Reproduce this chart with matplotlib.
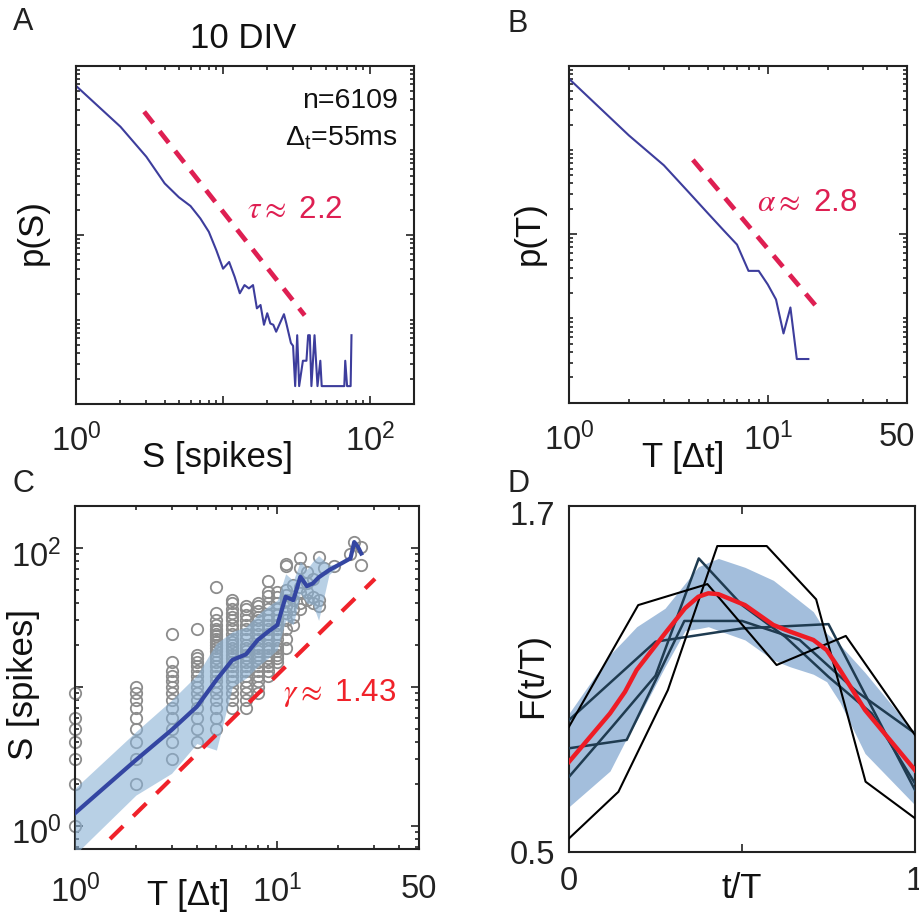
import numpy as np
import matplotlib
matplotlib.use('Agg')
import matplotlib.pyplot as plt
from matplotlib.ticker import LogLocator, FixedLocator, NullFormatter, FixedFormatter
import matplotlib.transforms as mtrans

plt.rcParams['font.family'] = ['Liberation Sans', 'DejaVu Sans']
plt.rcParams['mathtext.fontset'] = 'custom'
plt.rcParams['mathtext.rm'] = 'Liberation Sans'
plt.rcParams['mathtext.it'] = 'Liberation Sans:italic'
plt.rcParams['mathtext.bf'] = 'Liberation Sans:bold'

# ---------------- data ----------------
# Panel A: avalanche size distribution
A_S = [1, 2, 3, 4, 5, 6, 7, 8, 9, 10, 11, 12, 13, 14, 15, 16, 17, 18, 19, 20,
       21, 22, 23, 26, 27, 29, 30, 31, 32, 33, 35, 37, 38, 39, 40, 42, 44, 46,
       47, 50, 67, 68, 70, 74, 75]
A_p = [0.574, 0.190, 0.0841, 0.0407, 0.0279, 0.0220, 0.0157, 0.0109, 0.0066,
       0.0040, 0.0048, 0.0032, 0.00205, 0.00256, 0.00234, 0.00256, 0.00136,
       0.00149, 0.00087, 0.00119, 0.00090, 0.00087, 0.00072, 0.00116, 0.00090,
       0.00053, 0.00049, 0.000164, 0.000655, 0.000164, 0.000327, 0.000327,
       0.000655, 0.000655, 0.000164, 0.000655, 0.000164, 0.000327, 0.000164,
       0.000164, 0.000164, 0.000327, 0.000164, 0.000164, 0.000655]
A_fit_range = [2.9, 36.0]
A_tau = 2.2
A_fit_amp = 2.98

# Panel B: avalanche duration distribution
B_T = [1, 2, 3, 4, 5, 6, 7, 8, 9, 10, 11, 12, 13, 14, 15, 16]
B_p = [0.70, 0.149, 0.0658, 0.0315, 0.0177, 0.0111, 0.00753, 0.00367, 0.00367,
       0.00253, 0.00168, 0.000664, 0.00135, 0.00033, 0.00033, 0.00033]
B_fit_range = [4.2, 18.4]
B_alpha = 2.8
B_fit_amp = 4.24

# Panel C: size vs duration
C_cloud_T = [1, 2, 3, 4, 5, 6, 7, 8, 9, 10, 11, 12, 13, 14, 15, 16, 17, 19, 23, 24, 26]
C_cloud_S = [
    [1, 2, 3, 4, 5, 6, 9],
    [2, 3, 4, 5, 6, 7, 8, 9, 10],
    [3, 4, 5, 6, 7, 8, 9, 10, 11, 12, 13, 15, 24],
    [4, 5, 6, 7, 8, 9, 10, 11, 12, 13, 14, 15, 16, 17, 26],
    [5, 6, 7, 8, 9, 10, 11, 12, 13, 14, 15, 16, 17, 18, 19, 20, 21, 22, 23, 24, 25, 26, 28, 30, 34, 52],
    [7, 8, 9, 10, 11, 12, 13, 14, 15, 16, 17, 18, 19, 20, 21, 22, 24, 26, 28, 30, 32, 34, 36, 40, 42],
    [7, 8, 9, 10, 11, 12, 13, 14, 15, 16, 17, 18, 19, 20, 22, 24, 26, 28, 30, 33, 36, 38],
    [9, 10, 11, 12, 13, 14, 15, 16, 17, 18, 19, 20, 22, 24, 26, 28, 30, 32, 35, 38, 40],
    [12, 13, 14, 15, 16, 17, 18, 19, 20, 22, 24, 26, 28, 30, 33, 36, 40, 45, 48, 58],
    [15, 16, 17, 18, 19, 20, 22, 24, 26, 28, 30, 33, 36, 40, 44, 48],
    [19, 22, 26, 30, 34, 38, 42, 46, 50, 74, 76],
    [28, 32, 36, 42, 54],
    [36, 40, 47, 52, 71, 84],
    [42, 48, 56, 67],
    [40, 44, 60],
    [38, 42, 86],
    [72],
    [74],
    [90],
    [110],
    [75, 102],
]
C_mean_T = [1, 2, 3, 4, 5, 6, 7, 8, 9, 10, 11, 12, 13, 14, 15, 16, 18, 21, 23, 24, 25, 26]
C_mean_S = [1.23, 2.97, 4.88, 7.18, 11.2, 15.6, 17.1, 21.7, 24.9, 27.8, 44.4, 42.0,
            61.9, 53.0, 55.5, 61.2, 69.0, 78.0, 84.0, 110.0, 102.0, 91.0]
C_upper_S = [1.86, 4.75, 8.0, 12.1, 20.5, 24.9, 27.0, 33.0, 38.0, 42.0, 65.0, 58.0,
             80.0, 70.0, 80.0, 88.0, 75.0, 78.0, 84.0, 110.0, 102.0, 91.0]
C_lower_S = [0.62, 1.66, 2.38, 3.9, 3.5, 10.0, 11.5, 14.0, 16.0, 18.5, 30.0, 28.0,
             47.0, 40.0, 39.0, 30.0, 64.0, 78.0, 84.0, 110.0, 102.0, 91.0]
C_fit_range = [1.49, 30.4]
C_gamma = 1.43
C_fit_amp = 0.4535

# Panel D: avalanche shape collapse
D_blackA_y = [0.546, 0.708, 1.061, 1.561, 1.561, 1.376, 0.743, 0.616]
D_blackB_y = [0.934, 1.356, 1.429, 1.148, 1.249, 0.905]
D_navy1_y = [0.760, 0.934, 1.111, 1.518, 1.356, 1.246, 1.107, 0.980, 0.737]
D_navy2_y = [0.859, 0.888, 1.301, 1.301, 1.235, 1.054, 0.911]
D_navy3_y = [0.957, 1.229, 1.275, 1.290, 0.714]
D_mean_x = [0.0, 0.1185, 0.1618, 0.1956, 0.2775, 0.3353, 0.3738, 0.4027, 0.4316,
            0.5087, 0.5906, 0.6387, 0.7062, 0.7447, 0.7832, 0.8555, 1.0]
D_mean_y = [0.812, 0.980, 1.055, 1.131, 1.258, 1.345, 1.385, 1.397, 1.394, 1.356,
            1.287, 1.264, 1.235, 1.200, 1.131, 0.992, 0.783]
D_upper_y = [0.980, 1.184, 1.238, 1.281, 1.345, 1.431, 1.489, 1.504, 1.518, 1.487,
             1.442, 1.397, 1.333, 1.258, 1.218, 1.122, 0.911]
D_lower_y = [0.656, 0.780, 0.882, 0.954, 1.142, 1.267, 1.274, 1.281, 1.268, 1.235,
             1.165, 1.142, 1.116, 1.090, 1.018, 0.841, 0.662]

# ---------------- style ----------------
W, H = 919, 916
fig = plt.figure(figsize=(W / 100, H / 100), dpi=100)

CRIMSON = '#de1f52'
RED = '#f0222a'
BLUE_THIN = '#3d3d9c'
BLUE = '#3446a2'
GRAY = '#8c8c8c'
NAVY = '#1f3b50'
SPINE = '#222222'
TICK_FS = 23.5
LAB_FS = 25


def ax_at(l, r, t, b):
    return fig.add_axes([l / W, 1 - b / H, (r - l) / W, (b - t) / H])


def txt(x, y, s, **kw):
    return fig.text(x / W, 1 - y / H, s, **kw)


def style(ax, xpad, ypad):
    for sp in ax.spines.values():
        sp.set_linewidth(1.5)
        sp.set_color(SPINE)
    ax.tick_params(which='both', direction='in', top=True, right=True,
                   width=1.2, color=SPINE, labelsize=TICK_FS, labelcolor='#222222')
    ax.tick_params(which='major', length=6)
    ax.tick_params(which='minor', length=3)
    ax.tick_params(axis='x', pad=xpad)
    ax.tick_params(axis='y', pad=ypad)


def log_x(ax, lo, hi, majors, labels):
    ax.set_xscale('log')
    ax.set_xlim(lo, hi)
    ax.xaxis.set_major_locator(FixedLocator(majors))
    ax.xaxis.set_major_formatter(FixedFormatter(labels))
    ax.xaxis.set_minor_locator(LogLocator(base=10, subs=np.arange(2, 10), numticks=20))
    ax.xaxis.set_minor_formatter(NullFormatter())


def log_y(ax, lo, hi, majors, labels, subs):
    ax.set_yscale('log')
    ax.set_ylim(lo, hi)
    ax.yaxis.set_major_locator(FixedLocator(majors))
    ax.yaxis.set_major_formatter(FixedFormatter(labels))
    ax.yaxis.set_minor_locator(LogLocator(base=10, subs=subs, numticks=20))
    ax.yaxis.set_minor_formatter(NullFormatter())


def shift(label, dx_px, dy_px):
    label.set_transform(label.get_transform() +
                        mtrans.ScaledTranslation(dx_px / 100, -dy_px / 100, fig.dpi_scale_trans))


# ---------------- Panel A ----------------
axA = ax_at(76.3, 414, 65.7, 404.3)
axA.plot(A_S, A_p, color=BLUE_THIN, lw=1.5)
sA = np.array(A_fit_range)
axA.plot(sA, A_fit_amp * sA ** (-A_tau), color=CRIMSON, lw=3.4, dashes=(3.1, 2.2),
         dash_capstyle='butt')
log_x(axA, 1, 200, [1, 10, 100], ['$10^0$', '', '$10^2$'])
log_y(axA, 1e-4, 1, [1e-4, 1e-2, 1], ['', '', ''], np.arange(1, 10))
style(axA, 14, 8)

# ---------------- Panel B ----------------
axB = ax_at(569, 906.7, 65.7, 402.7)
axB.plot(B_T, B_p, color=BLUE_THIN, lw=1.5)
tB = np.array(B_fit_range)
axB.plot(tB, B_fit_amp * tB ** (-B_alpha), color=CRIMSON, lw=3.4, dashes=(3.1, 2.2),
         dash_capstyle='butt')
log_x(axB, 1, 50, [1, 10, 50], ['$10^0$', '$10^1$', '50'])
log_y(axB, 1e-4, 1, [1e-4, 1e-2, 1], ['', '', ''], np.arange(1, 10))
style(axB, 14, 8)

# ---------------- Panel C ----------------
axC = ax_at(75, 418.7, 506, 849.3)
cT = []
cS = []
for t, col in zip(C_cloud_T, C_cloud_S):
    cT += [t] * len(col)
    cS += col
axC.plot(cT, cS, 'o', mfc='none', mec=GRAY, ms=8.2, mew=1.3, clip_on=False, zorder=2)
axC.fill_between(C_mean_T, C_lower_S, C_upper_S, color='#8ab1d5', alpha=0.6, lw=0, zorder=3)
axC.plot(C_mean_T, C_mean_S, color=BLUE, lw=3, zorder=4)
tC = np.array(C_fit_range)
axC.plot(tC, C_fit_amp * tC ** C_gamma, color=RED, lw=3, dashes=(4.4, 3.4),
         dash_capstyle='butt', zorder=5)
log_x(axC, 1, 50, [1, 10, 50], ['$10^0$', '$10^1$', '50'])
log_y(axC, 0.676, 200, [1, 10, 100], ['$10^0$', '', '$10^2$'], np.arange(2, 10))
style(axC, 18, 10)

# ---------------- Panel D ----------------
axD = ax_at(569, 915, 506, 851.7)
axD.fill_between(D_mean_x, D_lower_y, D_upper_y, color='#a3bedc', lw=0, zorder=1)
for ys, col, lw in [(D_navy1_y, NAVY, 1.8), (D_navy2_y, NAVY, 1.8), (D_navy3_y, NAVY, 1.8),
                    (D_blackA_y, 'black', 1.5), (D_blackB_y, 'black', 1.5)]:
    axD.plot(np.linspace(0, 1, len(ys)), ys, color=col, lw=lw, zorder=3)
axD.plot(D_mean_x, D_mean_y, color='#ee1c25', lw=3.2, zorder=5)
axD.set_xlim(0, 1)
axD.set_ylim(0.5, 1.7)
axD.set_xticks([0, 0.5, 1])
axD.set_xticklabels(['0', '', '1'])
axD.set_yticks([0.5, 1.7])
axD.set_yticklabels(['0.5', '1.7'])
style(axD, 10, 10)

# small label offsets, as in the original
fig.canvas.draw()
shift(axB.get_xticklabels()[2], -10, 0)
shift(axD.get_yticklabels()[1], 0, 7)
shift(axC.get_yticklabels()[0], 0, 5)
shift(axC.get_yticklabels()[2], 0, 6)

# ---------------- texts ----------------
txt(243, 48, '10 DIV', ha='center', va='baseline', fontsize=25, color='#111111')
txt(398, 108, 'n=6109', ha='right', va='baseline', fontsize=20.5, color='#111111')
txt(398, 146, r'Δ$_\mathrm{t}$=55ms', ha='right', va='baseline', fontsize=20.5, color='#111111')
txt(247, 218, r'$\tau \approx$ 2.2', ha='left', va='baseline', fontsize=22.5, color=CRIMSON,
    math_fontfamily='stix')
txt(757, 211, r'$\alpha \approx$ 2.8', ha='left', va='baseline', fontsize=22.5, color=CRIMSON,
    math_fontfamily='stix')
txt(283, 701, r'$\gamma \approx$ 1.43', ha='left', va='baseline', fontsize=22.5, color=RED,
    math_fontfamily='stix')

txt(13, 30, 'A', ha='left', va='baseline', fontsize=22, color='#222222')
txt(508, 32, 'B', ha='left', va='baseline', fontsize=22, color='#222222')
txt(12, 492, 'C', ha='left', va='baseline', fontsize=22, color='#222222')
txt(508, 492, 'D', ha='left', va='baseline', fontsize=22, color='#222222')

txt(217, 457, 'S [spikes]', ha='center', va='center', fontsize=LAB_FS, color='#111111')
txt(683, 457, 'T [Δt]', ha='center', va='center', fontsize=LAB_FS, color='#111111')
txt(188, 896, 'T [Δt]', ha='center', va='center', fontsize=LAB_FS, color='#111111')
txt(742, 889, 't/T', ha='center', va='center', fontsize=LAB_FS, color='#111111')
txt(32, 232, 'p(S)', ha='center', va='center', rotation=90, fontsize=LAB_FS, color='#111111')
txt(529, 233, 'p(T)', ha='center', va='center', rotation=90, fontsize=LAB_FS, color='#111111')
txt(24, 684, 'S [spikes]', ha='center', va='center', rotation=90, fontsize=LAB_FS, color='#111111')
txt(533, 676, 'F(t/T)', ha='center', va='center', rotation=90, fontsize=LAB_FS, color='#111111')

fig.savefig('out.png', dpi=100)
